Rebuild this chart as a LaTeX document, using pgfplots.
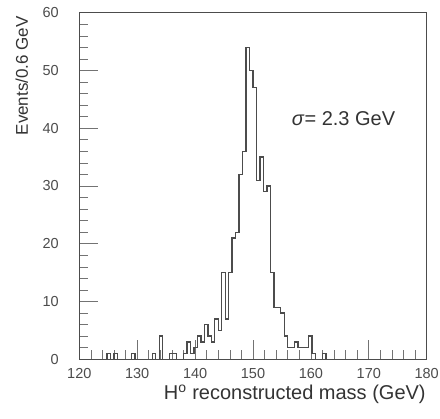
\documentclass[border=0pt]{standalone}
\usepackage{pgfplots}
\pgfplotsset{compat=1.18}
\usepackage{fontspec}
\setmainfont{Liberation Sans}
\begin{document}
\begin{tikzpicture}
\path[use as bounding box] (-79.3pt,-59.7pt) rectangle (360.7pt,359.3pt);
\begin{axis}[
    scale only axis,
    width=347.4pt, height=346.6pt,
    xmin=120, xmax=180, ymin=0, ymax=60,
    clip=false,
    xtick={120,130,...,180}, ytick={0,10,...,60},
    minor tick num=4,
    tick pos=left, tick align=inside,
    major tick length=19pt, minor tick length=9pt,
    axis line style={black!70, line width=0.9pt},
    every tick/.style={black!55, line width=0.6pt},
    /pgf/number format/assume math mode=true,
    tick label style={font=\fontsize{14.5}{14.5}\selectfont, text=black!70},
    xticklabel style={yshift=-6pt},
    yticklabel style={xshift=-17pt},
]
\addplot[const plot, draw=black!70, line width=1.4pt] coordinates {
    (120,0) (124.8,1) (125.4,0) (126.0,1) (126.6,0) (129.0,1) (129.6,0)
    (132.6,1) (133.2,0) (133.8,4) (134.4,0) (135.6,1) (136.8,0)
    (138.0,1) (138.6,3) (139.2,1) (139.8,2) (140.4,4) (141.0,3)
    (141.6,6) (142.2,4) (142.8,3) (143.4,7) (144.0,5) (144.6,15)
    (145.2,7) (145.8,15) (146.4,21) (147.0,22) (147.6,32) (148.2,36)
    (148.8,54) (149.4,50) (150.0,47) (150.6,31) (151.2,35) (151.8,29)
    (152.4,30) (153.0,15) (153.6,9) (154.8,8) (155.4,4) (156.0,2)
    (157.2,3) (157.8,2) (159.6,4) (160.2,1) (160.8,0) (162.0,1)
    (162.6,0) (180,0)
};
\node[anchor=base west, font=\fontsize{20}{20}\selectfont, text=black!80]
    at (axis cs:156.1,40.4) {\textit{σ}= 2.3 GeV};
\node[anchor=base east, font=\fontsize{20}{20}\selectfont, text=black!80]
    at (axis description cs:1,0) [xshift=2.5pt, yshift=-40.7pt]
    {H\textsuperscript{o} reconstructed mass (GeV)};
\node[xshift=-51.3pt, anchor=base east, rotate=90,
      font=\fontsize{17}{17}\selectfont, text=black!80]
    at (axis description cs:0,1) {Events/0.6 GeV};
\end{axis}
\end{tikzpicture}
\end{document}
